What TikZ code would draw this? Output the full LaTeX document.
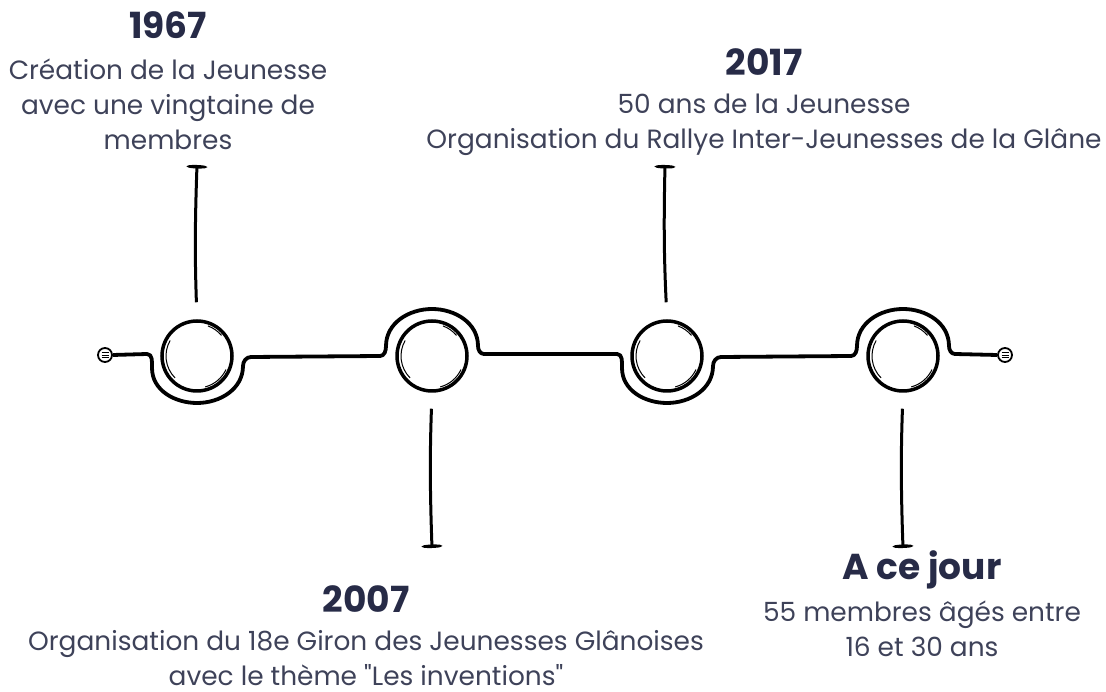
\documentclass[tikz,border=0pt]{standalone}
\usepackage{fontspec}
\setmainfont{Poppins}[Ligatures=TeXOff]
\usetikzlibrary{calc, arrows.meta, positioning}
\definecolor{titlenavy}{HTML}{272B47}
\definecolor{bodygray}{HTML}{3E4259}

\tikzset{
  ring/.style={circle, draw, line width=3.5pt, minimum size=70pt, inner sep=0pt},
  sketch/.style={line width=1pt},
  tline/.style={line width=3.8pt, line join=round},
  stem/.style={line width=3pt, -{Ellipse[length=3.5pt, width=19pt]}},
  endcap/.style={circle, draw, line width=1.8pt, minimum size=14pt, inner sep=0pt,
    path picture={\foreach \dy in {-2.6,0,2.6}
      \draw[line width=0.8pt] ([xshift=-3.5pt,yshift=\dy pt]path picture bounding box.center) -- ++(7pt,0);}},
  yeartitle/.style={text=titlenavy, font={\fontsize{36}{40}\selectfont\bfseries}, inner sep=0pt},
  yeartext/.style={text=bodygray, font={\fontsize{26.4}{35}\selectfont}, align=center, inner sep=0pt}
}

\begin{document}
\begin{tikzpicture}[x=1pt, y=1pt]
  \useasboundingbox (0,0) rectangle (1106,691);

  % timeline
  \node[endcap] (capL) at (105,336) {};
  \node[endcap] (capR) at (1005,336) {};
  \node[ring] (c1) at (197,335) {};
  \node[ring] (c2) at (432,335) {};
  \node[ring] (c3) at (667,335) {};
  \node[ring] (c4) at (903,335) {};

  \foreach \c in {c1,c2,c3,c4} {
    \draw[sketch] (\c) ++(150:31) arc[start angle=150, end angle=225, radius=31];
    \draw[sketch] (\c) ++(-75:32) arc[start angle=-75, end angle=-25, radius=32];
    \draw[sketch] (\c) ++(40:32) arc[start angle=40, end angle=70, radius=32];
  }

  \draw[tline] (capL.east) -- ($(c1)+(-50,2)$)
    to[out=0, in=90] ($(c1)+(-45,-12)$) to[out=-90, in=180] ($(c1)+(0,-47)$)
    to[out=0, in=-90] ($(c1)+(46,-10)$) to[out=90, in=180] ($(c1)+(54,-1)$)
    -- ($(c2)+(-52,0)$)
    to[out=0, in=-90] ($(c2)+(-46,10)$) to[out=90, in=180] ($(c2)+(0,47)$)
    to[out=0, in=90] ($(c2)+(46,10)$) to[out=-90, in=180] ($(c2)+(52,2)$)
    -- ($(c3)+(-50,2)$)
    to[out=0, in=90] ($(c3)+(-45,-12)$) to[out=-90, in=180] ($(c3)+(0,-47)$)
    to[out=0, in=-90] ($(c3)+(46,-10)$) to[out=90, in=180] ($(c3)+(54,-1)$)
    -- ($(c4)+(-52,0)$)
    to[out=0, in=-90] ($(c4)+(-46,10)$) to[out=90, in=180] ($(c4)+(0,47)$)
    to[out=0, in=90] ($(c4)+(46,10)$) to[out=-90, in=180] ($(c4)+(52,2)$)
    -- (capR.west);

  % stems
  \coordinate (top1) at (197,526);
  \coordinate (bot2) at (432,143);
  \coordinate (top3) at (665,526);
  \coordinate (bot4) at (903,143);
  \draw[stem, shorten <=17pt] (c1.north) to[bend left=2] (top1);
  \draw[stem, shorten <=16pt] (c2.south) to[bend right=2] (bot2);
  \draw[stem, shorten <=17pt] (c3.north) to[bend left=2] (top3);
  \draw[stem, shorten <=16pt] (c4.south) to[bend right=2] (bot4);

  % events
  \node[yeartitle, anchor=base] (y1967) at (168,652) {1967};
  \node[yeartext, below=19pt of y1967] (t1967) {Création de la Jeunesse\\avec une vingtaine de\\membres};

  \node[yeartitle, anchor=base] (y2017) at (764,615) {2017};
  \node[yeartext, below=18pt of y2017] (t2017) {50 ans de la Jeunesse\\Organisation du Rallye Inter-Jeunesses de la Glâne};

  \node[yeartitle, anchor=base] (y2007) at (366,78) {2007};
  \node[yeartext, below=17pt of y2007] (t2007) {Organisation du 18e Giron des Jeunesses Glânoises\\avec le thème "Les inventions"};

  \node[yeartitle, anchor=base] (yjour) at (922,111) {A ce jour};
  \node[yeartext, below=11pt of yjour] (tjour) {55 membres âgés entre\\16 et 30 ans};
\end{tikzpicture}
\end{document}
